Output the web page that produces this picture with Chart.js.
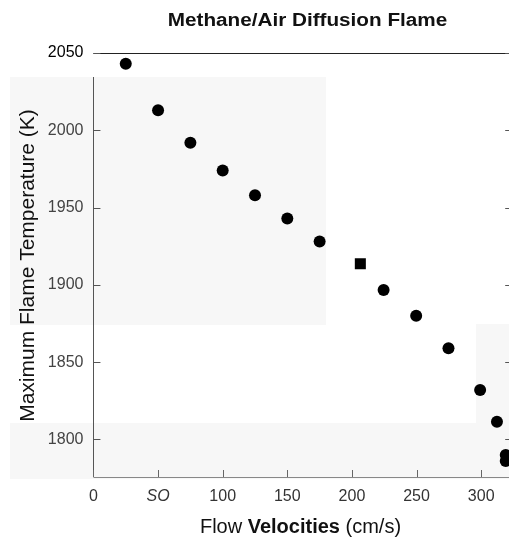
<!DOCTYPE html>
<html>
<head>
<meta charset="utf-8">
<script src="https://cdn.jsdelivr.net/npm/chart.js@4/dist/chart.umd.min.js"></script>
<style>
  html, body { margin: 0; padding: 0; background: #ffffff; overflow: hidden; width: 509px; height: 537px; }
  canvas { display: block; }
</style>
</head>
<body>
<canvas id="c" width="520" height="537" style="width:520px;height:537px"></canvas>
<script>
// ---- data ----
const chartTitle = 'Methane/Air Diffusion Flame';
const xTitleParts = ['Flow ', 'Velocities', ' (cm/s)'];
const yTitle = 'Maximum Flame Temperature (K)';

const circleX = [25, 50, 75, 100, 125, 150, 175, 224.5, 249.7, 274.7, 299.2, 312.2, 319, 319];
const circleY = [2043, 2013, 1992, 1974, 1958, 1943, 1928, 1896.7, 1880, 1859, 1832, 1811.5, 1790, 1786];
const squareX = [206.5];
const squareY = [1913.7];

const xTickValues = [0, 50, 100, 150, 200, 250, 300];
const xTickLabels = ['0', 'SO', '100', '150', '200', '250', '300'];
const yTickValues = [1800, 1850, 1900, 1950, 2000, 2050];
const yTickLabels = ['1800', '1850', '1900', '1950', '2000', '2050'];

const FONT = "'Liberation Sans', Arial, sans-serif";

const toPoints = (xs, ys) => xs.map((x, i) => ({ x: x, y: ys[i] }));

// scan background patches, drawn first
const scanPlugin = {
  id: 'scan',
  beforeDraw(chart) {
    const ctx = chart.ctx;
    ctx.save();
    ctx.fillStyle = '#f7f7f7';
    ctx.fillRect(10, 77, 316, 248);
    ctx.fillRect(476, 324, 44, 100);
    ctx.fillRect(10, 423, 510, 56);
    ctx.restore();
  },
  afterDraw(chart) {
    const ctx = chart.ctx;
    const a = chart.chartArea;
    const xs = chart.scales.x, ys = chart.scales.y;
    ctx.save();
    // frame
    ctx.lineWidth = 1;
    ctx.strokeStyle = '#222';
    ctx.beginPath(); ctx.moveTo(a.left, a.top + 0.5); ctx.lineTo(a.right, a.top + 0.5); ctx.stroke();
    ctx.strokeStyle = '#555';
    ctx.beginPath(); ctx.moveTo(Math.round(a.left) + 0.5, 77); ctx.lineTo(Math.round(a.left) + 0.5, a.bottom); ctx.stroke();
    ctx.strokeStyle = '#888';
    ctx.beginPath(); ctx.moveTo(a.left, a.bottom + 0.5); ctx.lineTo(a.right, a.bottom + 0.5); ctx.stroke();
    // inward ticks
    ctx.strokeStyle = '#666';
    xs.ticks.forEach(t => {
      const px = Math.round(xs.getPixelForValue(t.value)) + 0.5;
      ctx.beginPath(); ctx.moveTo(px, a.bottom); ctx.lineTo(px, a.bottom - 7); ctx.stroke();
    });
    ctx.strokeStyle = '#555';
    ys.ticks.forEach(t => {
      const py = Math.round(ys.getPixelForValue(t.value)) + 0.5;
      ctx.beginPath(); ctx.moveTo(a.left, py); ctx.lineTo(a.left + 7, py); ctx.stroke();
      ctx.beginPath(); ctx.moveTo(a.right, py); ctx.lineTo(a.right - 7, py); ctx.stroke();
    });
    // main title
    ctx.fillStyle = '#111';
    ctx.save();
    ctx.translate(307.5, 26);
    ctx.scale(1.15, 1);
    ctx.font = 'bold 18px ' + FONT;
    ctx.textAlign = 'center';
    ctx.textBaseline = 'alphabetic';
    ctx.fillText(chartTitle, 0, 0);
    ctx.restore();
    // x title with bold word
    const fonts = ['20px ' + FONT, 'bold 20px ' + FONT, '20px ' + FONT];
    let total = 0;
    const widths = xTitleParts.map((s, i) => { ctx.font = fonts[i]; const w = ctx.measureText(s).width; total += w; return w; });
    let cx = 300.5 - total / 2;
    ctx.textAlign = 'left';
    ctx.textBaseline = 'alphabetic';
    xTitleParts.forEach((s, i) => { ctx.font = fonts[i]; ctx.fillText(s, cx, 533); cx += widths[i]; });
    // y title
    ctx.save();
    ctx.translate(33.5, 265.5);
    ctx.rotate(-Math.PI / 2);
    ctx.font = '21px ' + FONT;
    ctx.textAlign = 'center';
    ctx.fillText(yTitle, 0, 0);
    ctx.restore();
    ctx.restore();
  }
};

new Chart(document.getElementById('c'), {
  type: 'scatter',
  data: {
    datasets: [
      {
        label: 'circles',
        data: toPoints(circleX, circleY),
        pointStyle: 'circle',
        pointRadius: 6,
        backgroundColor: '#000',
        borderColor: '#000',
        borderWidth: 0
      },
      {
        label: 'square',
        data: toPoints(squareX, squareY),
        pointStyle: 'rect',
        pointRadius: 7.8,
        backgroundColor: '#000',
        borderColor: '#000',
        borderWidth: 0
      }
    ]
  },
  options: {
    responsive: false,
    devicePixelRatio: 1,
    animation: false,
    events: [],
    layout: { padding: { left: 0, top: 53, right: 7, bottom: 0 } },
    plugins: { legend: { display: false }, title: { display: false }, tooltip: { enabled: false } },
    scales: {
      x: {
        type: 'linear',
        min: 0,
        max: 324,
        afterFit: s => { s.height = 60; },
        afterBuildTicks: axis => { axis.ticks = xTickValues.map(v => ({ value: v })); },
        grid: { display: false, drawTicks: false },
        border: { display: false },
        ticks: {
          padding: 10,
          maxRotation: 0,
          autoSkip: false,
          color: '#333',
          font: ctx => ({ family: FONT, size: 16, style: (ctx.tick && ctx.tick.value === 50) ? 'italic' : 'normal' }),
          callback: v => xTickLabels[xTickValues.indexOf(v)]
        }
      },
      y: {
        type: 'linear',
        min: 1775.7,
        max: 2050,
        afterFit: s => { s.width = 93.45; },
        afterBuildTicks: axis => { axis.ticks = yTickValues.map(v => ({ value: v })); },
        grid: { display: false, drawTicks: false },
        border: { display: false },
        ticks: {
          padding: 10,
          autoSkip: false,
          color: ctx => (ctx.tick && ctx.tick.value === 2050) ? '#000' : '#444',
          font: { family: FONT, size: 16 },
          callback: v => yTickLabels[yTickValues.indexOf(v)]
        }
      }
    }
  },
  plugins: [scanPlugin]
});
</script>
</body>
</html>
